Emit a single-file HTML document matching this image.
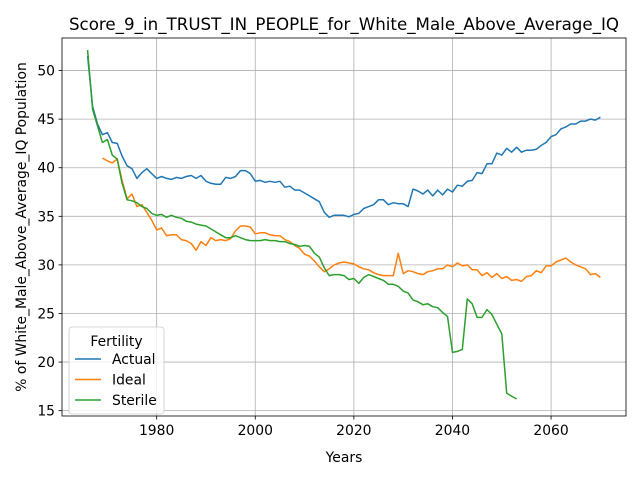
<!DOCTYPE html>
<html><head><meta charset="utf-8"><style>
body{margin:0;background:#fff;}
svg text{font-family:"DejaVu Sans","Liberation Sans",sans-serif;}
</style></head><body>
<svg id="chart" width="640" height="480" viewBox="0 0 640 480" xmlns="http://www.w3.org/2000/svg"></svg>
<script>
const actualStart = 1966;
const actualValues = [51.5,46.3,44.5,43.4,43.6,42.6,42.5,41.2,40.2,39.9,38.9,39.5,39.9,39.4,38.9,39.1,38.9,38.8,39.0,38.9,39.1,39.2,38.9,39.2,38.6,38.4,38.3,38.3,39.0,38.9,39.1,39.7,39.7,39.4,38.6,38.7,38.5,38.6,38.5,38.6,38.0,38.1,37.7,37.7,37.4,37.1,36.8,36.5,35.4,34.9,35.1,35.1,35.1,34.95,35.2,35.3,35.8,36.0,36.2,36.7,36.7,36.2,36.4,36.3,36.3,36.0,37.8,37.6,37.3,37.7,37.1,37.7,37.2,37.8,37.5,38.2,38.1,38.6,38.7,39.5,39.4,40.4,40.4,41.5,41.3,42.0,41.6,42.1,41.6,41.8,41.8,41.9,42.3,42.6,43.2,43.4,44.0,44.2,44.5,44.5,44.8,44.8,45.0,44.9,45.2];
const idealStart = 1969;
const idealValues = [41.0,40.7,40.5,40.9,38.7,36.8,37.3,36.0,36.2,35.4,34.6,33.6,33.8,33.0,33.1,33.1,32.6,32.5,32.2,31.5,32.4,32.0,32.8,32.5,32.6,32.5,32.7,33.5,34.0,34.0,33.9,33.2,33.3,33.3,33.1,33.0,33.0,32.6,32.4,32.0,31.7,31.1,30.9,30.4,29.8,29.3,29.6,30.0,30.2,30.3,30.2,30.1,29.8,29.6,29.5,29.2,29.0,28.9,28.9,28.9,31.2,29.1,29.4,29.3,29.1,29.0,29.3,29.4,29.6,29.6,30.0,29.8,30.2,29.9,30.0,29.5,29.5,28.9,29.2,28.7,29.1,28.6,28.8,28.4,28.5,28.3,28.8,28.9,29.4,29.2,29.9,29.9,30.3,30.5,30.7,30.3,30.0,29.8,29.6,29.0,29.1,28.7];
const sterileStart = 1966;
const sterileValues = [52.1,46.0,44.3,42.6,42.9,41.3,40.9,38.4,36.7,36.6,36.4,36.0,35.8,35.3,35.1,35.2,34.9,35.1,34.9,34.8,34.5,34.4,34.2,34.1,34.0,33.7,33.4,33.1,32.8,32.8,33.0,32.8,32.6,32.5,32.5,32.5,32.6,32.5,32.5,32.4,32.4,32.2,32.1,31.9,32.0,31.9,31.2,30.8,29.7,28.9,29.0,29.0,28.9,28.5,28.6,28.1,28.7,29.0,28.8,28.6,28.4,28.0,28.0,27.8,27.3,27.1,26.4,26.2,25.9,26.0,25.7,25.6,25.1,24.7,21.0,21.1,21.3,26.5,26.0,24.6,24.6,25.4,24.9,23.9,22.9,16.8,16.5,16.2];
const xTicks = [1980,2000,2020,2040,2060];
const yTicks = [15,20,25,30,35,40,45,50];
const seriesNames = ["Actual","Ideal","Sterile"];

const L=62,R=626,T=38,B=416;
const xMin=1960.8,xMax=2075.2,yMin=14.45,yMax=53.35;
const xs=v=>L+(v-xMin)/(xMax-xMin)*(R-L);
const ys=v=>B-(v-yMin)/(yMax-yMin)*(B-T);
const svg=document.getElementById('chart');
const NS='http://www.w3.org/2000/svg';
function mk(tag,attrs,parent){const e=document.createElementNS(NS,tag);for(const k in attrs)e.setAttribute(k,attrs[k]);(parent||svg).appendChild(e);return e;}

const grid=mk('g',{});


xTicks.forEach(t=>{
  mk('line',{x1:xs(t),x2:xs(t),y1:T,y2:B,stroke:'#b0b0b0','stroke-width':0.8},grid);
  mk('line',{x1:xs(t),x2:xs(t),y1:B,y2:B+3.5,stroke:'#000','stroke-width':0.8});
  const tx=mk('text',{x:xs(t),y:B+19,'font-size':13.9,'text-anchor':'middle'});
  
  
  tx.textContent=t;
});
yTicks.forEach(t=>{
  mk('line',{x1:L,x2:R,y1:ys(t),y2:ys(t),stroke:'#b0b0b0','stroke-width':0.8},grid);
  mk('line',{x1:L-3.5,x2:L,y1:ys(t),y2:ys(t),stroke:'#000','stroke-width':0.8});
  const tx=mk('text',{x:L-7,y:ys(t)+5,'font-size':13.9,'text-anchor':'end'});
  
  
  tx.textContent=t;
});
const colors=['#1f77b4','#ff7f0e','#2ca02c'];
const data=[[actualStart,actualValues],[idealStart,idealValues],[sterileStart,sterileValues]];
data.forEach((d,i)=>{
  const pts=d[1].map((v,j)=>xs(d[0]+j).toFixed(1)+','+ys(v).toFixed(1)).join(' ');
  const pl=mk('polyline',{points:pts,fill:'none',stroke:colors[i],'stroke-width':1.5,'stroke-linejoin':'round'});
  
  
});
const frame=mk('rect',{x:L,y:T,width:R-L,height:B-T,fill:'none',stroke:'#000','stroke-width':0.8});



const title=mk('text',{x:(L+R)/2,y:30,'font-size':16.7,'text-anchor':'middle'});


title.textContent='Score_9_in_TRUST_IN_PEOPLE_for_White_Male_Above_Average_IQ';
const xl=mk('text',{x:(L+R)/2,y:462,'font-size':13.9,'text-anchor':'middle'});


xl.textContent='Years';
const yl=mk('text',{x:0,y:0,'font-size':13.9,'text-anchor':'middle',transform:'translate(26,'+((T+B)/2)+') rotate(-90)'});


yl.textContent='% of White_Male_Above_Average_IQ Population';

const lg=mk('g',{});


mk('rect',{x:69,y:327,width:95,height:87,rx:3,fill:'#fff','fill-opacity':0.8,stroke:'#ccc','stroke-width':0.8},lg);
const lt=mk('text',{x:116.5,y:346,'font-size':13.9,'text-anchor':'middle'},lg);
lt.textContent='Fertility';
seriesNames.forEach((n,i)=>{
  const y=359+i*20.5;
  const e=mk('g',{},lg);
  
  
  mk('line',{x1:75,x2:101,y1:y,y2:y,stroke:colors[i],'stroke-width':1.5},e);
  const t=mk('text',{x:112,y:y+5,'font-size':13.9},e);
  t.textContent=n;
});
</script>
</body></html>
